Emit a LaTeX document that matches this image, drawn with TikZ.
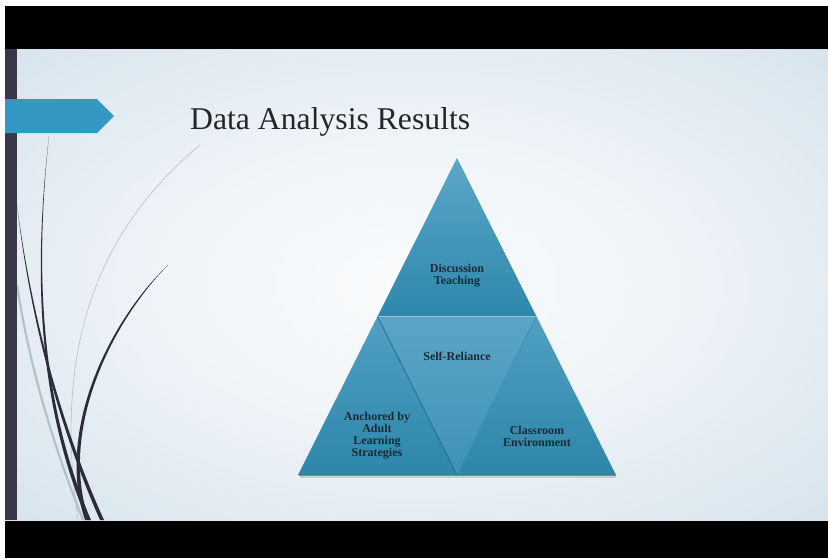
\documentclass[tikz,border=0pt]{standalone}
\usepackage{fontspec}
\setmainfont{Liberation Serif}
\usetikzlibrary{calc}
\definecolor{slideblue}{HTML}{CCDCE8}
\definecolor{slidecorner}{HTML}{B9CFE0}
\definecolor{stripgrey}{HTML}{3A3749}
\definecolor{bannerblue}{HTML}{3399C2}
\definecolor{curvedark}{HTML}{2E2C3C}
\definecolor{curvelight}{HTML}{B4C0CA}
\definecolor{titlegrey}{HTML}{262626}
\definecolor{labeltext}{HTML}{1B2A34}
\definecolor{topA}{HTML}{5CA7C7}
\definecolor{topB}{HTML}{2D87AC}
\definecolor{midA}{HTML}{5AA5C5}
\definecolor{midB}{HTML}{3F92B6}
\definecolor{sideA}{HTML}{50A0C2}
\definecolor{sideB}{HTML}{2D86AA}
\pgfdeclareradialshading{slidebg}{\pgfpoint{0bp}{0bp}}{color(0bp)=(white!90!slideblue); color(15bp)=(white!70!slideblue); color(45bp)=(slideblue); color(72bp)=(slidecorner)}

\begin{document}
\begin{tikzpicture}[x=1pt, y=-1pt,
	lbl/.style={font=\bfseries\fontsize{12}{12}\selectfont, text=labeltext, align=center, inner sep=0pt}]
	\useasboundingbox (0,0) rectangle (828,558);
	\fill[white] (0,0) rectangle (828,558);
	\fill[black] (5,6) rectangle (828,49);
	\fill[black] (5,520) rectangle (828,558);
	\shade[shading=slidebg] (5,49) rectangle (828,520);
	\draw[curvelight, line width=0.6] (200,145) .. controls (110,220) and (50,330) .. (78,520);
	\draw[curvelight, line width=2.2] (17,285) .. controls (30,370) and (55,450) .. (83,520);
	\fill[curvedark] (49,136) .. controls (36,250) and (32,390) .. (87,520) -- (91,520) .. controls (35,390) and (37,250) .. (49,136) -- cycle;
	\fill[curvedark] (17,205) .. controls (30,320) and (60,430) .. (100,520) -- (104,520) .. controls (63,430) and (32,320) .. (17,205) -- cycle;
	\fill[curvedark] (168,265) .. controls (110,320) and (55,430) .. (85,520) -- (89,520) .. controls (58,430) and (112,322) .. (168,265) -- cycle;
	\fill[stripgrey] (5,49) rectangle (17,520);
	\fill[bannerblue] (5,99) -- (97,99) -- (114,116) -- (97,133) -- (5,133) -- cycle;
	\node[anchor=base west, inner sep=0pt, font=\fontsize{31.7}{36}\selectfont, text=titlegrey] (title) at (190,129) {Data Analysis Results};
	\coordinate (A) at (457,158);
	\coordinate (B) at (298,475);
	\coordinate (C) at (616,475);
	\coordinate (D) at ($(A)!0.5!(B)$);
	\coordinate (E) at ($(A)!0.5!(C)$);
	\coordinate (F) at ($(B)!0.5!(C)$);
	\draw[black!20, line width=3] ($(B)+(2,1.5)$) -- ($(C)+(0,1.5)$);
	\draw[black!45, line width=1.2] ($(B)+(1,0.6)$) -- ($(C)+(0,0.6)$);
	\shade[top color=topA, bottom color=topB] (A) -- (D) -- (E) -- cycle;
	\shade[top color=sideA, bottom color=sideB] (D) -- (B) -- (F) -- cycle;
	\shade[top color=sideA, bottom color=sideB] (E) -- (F) -- (C) -- cycle;
	\shade[top color=midA, bottom color=midB] (D) -- (E) -- (F) -- cycle;
	\draw[topB!80!black, line width=0.8] (D) -- (F);
	\draw[sideB, line width=0.5] (E) -- (F);
	\draw[midA!70!white, line width=0.5] (D) -- (E);
	\node[lbl] (disc) at (457,276) {Discussion\\Teaching};
	\node[lbl] (self) at (457,356) {Self-Reliance};
	\node[lbl] (adult) at (377,436) {Anchored by\\Adult\\Learning\\Strategies};
	\node[lbl] (room) at (537,436) {Classroom\\Environment};
\end{tikzpicture}
\end{document}
